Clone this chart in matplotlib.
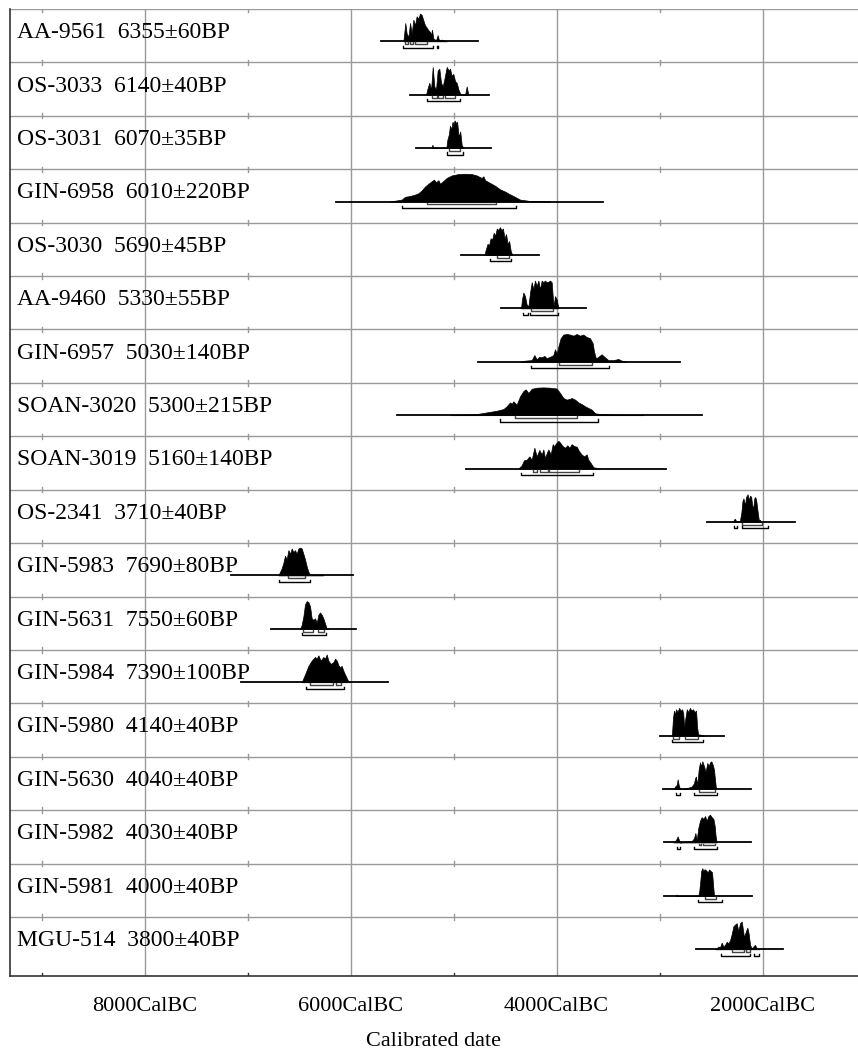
import matplotlib
matplotlib.use("Agg")
import matplotlib.pyplot as plt

plt.rcParams['font.family'] = ['Liberation Serif', 'DejaVu Serif']

names = ["AA-9561", "OS-3033", "OS-3031", "GIN-6958", "OS-3030", "AA-9460",
         "GIN-6957", "SOAN-3020", "SOAN-3019", "OS-2341", "GIN-5983", "GIN-5631",
         "GIN-5984", "GIN-5980", "GIN-5630", "GIN-5982", "GIN-5981", "MGU-514"]
ages = [6355, 6140, 6070, 6010, 5690, 5330, 5030, 5300, 5160, 3710,
        7690, 7550, 7390, 4140, 4040, 4030, 4000, 3800]
errors = [60, 40, 35, 220, 45, 55, 140, 215, 140, 40,
          80, 60, 100, 40, 40, 40, 40, 40]

# extent of each calibrated curve (years BC)
span_from = [5705, 5422, 5364, 6141, 4927, 4539, 4759, 5552, 4879, 2536,
             7160, 6772, 7063, 2995, 2963, 2956, 2956, 2646]
span_to = [4765, 4652, 4636, 3552, 4170, 3714, 2801, 2591, 2937, 1684,
           5979, 5947, 5633, 2374, 2115, 2115, 2105, 1798]

# probability curves: years BC and relative probability
prob_years = [
    [5487, 5477, 5468, 5455, 5438, 5422, 5406, 5390, 5374, 5358, 5341, 5325, 5309, 5293,
     5277, 5260, 5244, 5228, 5218, 5209, 5196, 5170, 5154, 5141, 5115, 5083, 5066],
    [5267, 5254, 5235, 5218, 5202, 5186, 5170, 5154, 5138, 5121, 5105, 5089, 5066, 5047,
     5034, 5018, 5002, 4985, 4969, 4953, 4937, 4921, 4888, 4872, 4862, 4853],
    [5215, 5205, 5195, 5070, 5060, 5045, 5035, 5020, 5010, 5000, 4990, 4975, 4965, 4950,
     4935, 4920, 4900],
    [5617, 5503, 5471, 5422, 5374, 5341, 5309, 5277, 5244, 5212, 5189, 5170, 5147, 5131,
     5099, 5066, 5018, 4953, 4888, 4824, 4775, 4727, 4710, 4694, 4646, 4597, 4549, 4500,
     4452, 4403, 4354, 4257, 4063],
    [4700, 4690, 4670, 4655, 4640, 4625, 4610, 4595, 4580, 4565, 4550, 4535, 4520, 4505,
     4490, 4475, 4460, 4445, 4430],
    [4345, 4335, 4322, 4306, 4290, 4273, 4257, 4241, 4225, 4209, 4193, 4176, 4160, 4144,
     4128, 4112, 4095, 4079, 4063, 4047, 4037, 4028, 4015, 3998, 3982],
    [4354, 4306, 4241, 4215, 4193, 4167, 4144, 4118, 4095, 4063, 4031, 4015, 3998, 3982,
     3960, 3934, 3901, 3869, 3837, 3804, 3772, 3740, 3707, 3675, 3649, 3636, 3617, 3594,
     3562, 3545, 3529, 3497, 3448, 3400, 3367, 3319],
    [5034, 4775, 4678, 4581, 4516, 4484, 4451, 4435, 4419, 4387, 4354, 4322, 4299, 4273,
     4241, 4193, 4128, 4063, 3998, 3966, 3934, 3901, 3869, 3853, 3820, 3788, 3756, 3723,
     3691, 3659, 3626, 3578, 3448, 3157],
    [4371, 4338, 4316, 4290, 4264, 4241, 4215, 4193, 4167, 4144, 4128, 4112, 4095, 4079,
     4057, 4037, 4024, 3998, 3982, 3966, 3940, 3917, 3895, 3875, 3853, 3830, 3804, 3782,
     3756, 3733, 3707, 3691, 3668, 3642, 3578],
    [2290, 2270, 2255, 2220, 2205, 2195, 2185, 2170, 2160, 2145, 2135, 2120, 2110, 2100,
     2090, 2080, 2070, 2060, 2045, 2035, 2025, 2015],
    [6701, 6684, 6668, 6652, 6636, 6620, 6603, 6587, 6571, 6555, 6539, 6523, 6506, 6490,
     6474, 6458, 6442, 6425, 6409, 6393, 6345, 6280, 6264],
    [6490, 6474, 6458, 6442, 6425, 6409, 6393, 6377, 6361, 6345, 6328, 6312, 6296, 6280,
     6264, 6248, 6231, 6215],
    [6474, 6442, 6409, 6377, 6345, 6328, 6312, 6290, 6264, 6248, 6231, 6215, 6192, 6167,
     6150, 6134, 6118, 6102, 6086, 6069, 6053, 6037, 6021, 6005],
    [2880, 2870, 2860, 2850, 2840, 2825, 2810, 2795, 2780, 2770, 2760, 2750, 2735, 2720,
     2705, 2690, 2675, 2660, 2645, 2635, 2625, 2580, 2570],
    [2866, 2849, 2833, 2824, 2814, 2801, 2752, 2720, 2688, 2665, 2655, 2646, 2633, 2620,
     2607, 2597, 2584, 2568, 2552, 2536, 2523, 2510, 2497, 2484, 2471, 2461, 2451],
    [2866, 2840, 2824, 2811, 2801, 2736, 2688, 2665, 2652, 2639, 2623, 2607, 2591, 2574,
     2558, 2542, 2526, 2510, 2493, 2477, 2464, 2455, 2445],
    [2840, 2835, 2830, 2625, 2615, 2605, 2595, 2585, 2575, 2565, 2555, 2545, 2530, 2520,
     2505, 2490, 2478, 2470],
    [2461, 2445, 2429, 2413, 2396, 2380, 2364, 2348, 2332, 2315, 2299, 2283, 2267, 2251,
     2235, 2218, 2202, 2193, 2180, 2160, 2147, 2134, 2121, 2105, 2073, 2057, 2031],
]
prob_values = [
    [0, 0.34, 0.66, 0.28, 0.16, 0.66, 0.28, 0.78, 0.58, 0.90, 0.82, 1.0, 0.95, 0.76,
     0.58, 0.49, 0.40, 0.34, 0.22, 0.42, 0.10, 0.04, 0.22, 0.04, 0.06, 0.02, 0],
    [0, 0.20, 0.43, 0.18, 1.0, 0.30, 0.18, 0.87, 0.94, 0.43, 0.30, 0.56, 1.0, 0.87,
     0.94, 0.68, 0.75, 0.49, 0.43, 0.20, 0.05, 0, 0, 0.30, 0.10, 0],
    [0, 0.12, 0, 0, 0.30, 0.50, 0.80, 0.70, 0.95, 0.85, 1.0, 0.90, 0.95, 0.40,
     0.60, 0.10, 0],
    [0, 0.07, 0.17, 0.20, 0.25, 0.30, 0.40, 0.54, 0.64, 0.73, 0.79, 0.69, 0.77, 0.64,
     0.74, 0.85, 0.94, 0.99, 1.0, 0.99, 0.94, 0.85, 0.91, 0.77, 0.67, 0.57, 0.44, 0.36,
     0.26, 0.17, 0.07, 0.02, 0],
    [0, 0.15, 0.40, 0.35, 0.60, 0.55, 0.80, 0.70, 0.95, 0.90, 1.0, 0.90, 0.95, 0.60,
     0.75, 0.40, 0.50, 0.15, 0],
    [0, 0.32, 0.57, 0.44, 0.14, 0.07, 0.57, 0.94, 0.69, 1.0, 0.81, 1.0, 0.69, 1.0,
     0.94, 1.0, 0.94, 0.96, 1.0, 0.94, 0.44, 0.07, 0.44, 0.32, 0],
    [0, 0.04, 0.06, 0.24, 0.09, 0.18, 0.16, 0.21, 0.13, 0.18, 0.24, 0.45, 0.30, 0.55,
     0.85, 0.98, 1.0, 0.98, 0.94, 1.0, 0.94, 0.98, 0.89, 0.85, 0.67, 0.37, 0.12, 0.18,
     0.27, 0.21, 0.16, 0.06, 0.06, 0.10, 0.04, 0],
    [0, 0.04, 0.10, 0.16, 0.22, 0.32, 0.46, 0.41, 0.50, 0.38, 0.68, 0.87, 0.93, 0.80,
     0.95, 0.99, 1.0, 0.99, 0.96, 0.80, 0.62, 0.56, 0.59, 0.62, 0.56, 0.46, 0.40, 0.32,
     0.26, 0.20, 0.07, 0.04, 0.02, 0],
    [0, 0.12, 0.30, 0.32, 0.44, 0.32, 0.75, 0.44, 0.67, 0.51, 0.69, 0.38, 0.56, 0.69,
     0.51, 0.88, 0.81, 0.94, 1.0, 0.94, 0.81, 0.75, 0.84, 0.75, 0.88, 0.81, 0.79, 0.63,
     0.51, 0.44, 0.51, 0.32, 0.20, 0.05, 0],
    [0, 0.12, 0.03, 0.04, 0.35, 0.75, 0.85, 0.60, 0.90, 1.0, 0.80, 0.95, 0.90, 0.60,
     0.50, 0.85, 0.90, 0.75, 0.30, 0.05, 0.08, 0],
    [0, 0.13, 0.26, 0.45, 0.71, 0.58, 0.91, 0.78, 0.97, 0.84, 0.91, 0.78, 0.97, 1.0,
     0.97, 0.78, 0.58, 0.32, 0.13, 0.03, 0.01, 0.04, 0],
    [0, 0.14, 0.44, 0.88, 1.0, 0.96, 0.81, 0.38, 0.32, 0.38, 0.22, 0.51, 0.59, 0.51,
     0.38, 0.20, 0.01, 0],
    [0, 0.28, 0.59, 0.78, 0.91, 0.85, 0.97, 0.78, 0.91, 0.85, 1.0, 0.78, 0.66, 0.72,
     0.85, 0.78, 0.62, 0.53, 0.59, 0.41, 0.28, 0.15, 0.03, 0],
    [0, 0.60, 0.90, 0.75, 0.95, 0.85, 1.0, 0.90, 0.95, 0.80, 0.30, 0.60, 0.95, 0.85,
     1.0, 0.90, 0.95, 0.85, 0.90, 0.30, 0.05, 0.02, 0],
    [0, 0.09, 0.15, 0.35, 0.15, 0, 0.02, 0.05, 0.09, 0.21, 0.39, 0.45, 0.15, 0.70,
     0.96, 0.82, 1.0, 0.82, 0.63, 0.94, 0.82, 0.96, 1.0, 0.88, 0.70, 0.33, 0],
    [0, 0.09, 0.22, 0.09, 0, 0.03, 0.05, 0.15, 0.34, 0.09, 0.53, 0.78, 0.91, 0.85,
     0.95, 0.78, 0.95, 1.0, 0.91, 0.85, 0.59, 0.22, 0],
    [0, 0.05, 0, 0, 0.15, 0.50, 0.90, 1.0, 0.90, 0.95, 0.95, 0.90, 0.85, 0.95,
     0.90, 0.85, 0.30, 0],
    [0, 0.04, 0.10, 0.07, 0.24, 0.10, 0.16, 0.27, 0.21, 0.33, 0.55, 0.83, 0.89, 0.94,
     0.66, 0.94, 1.0, 0.78, 0.44, 0.66, 0.78, 0.55, 0.16, 0.04, 0.16, 0.04, 0],
]

# highest density ranges, years BC
range68 = [
    [(5471, 5438), (5422, 5390), (5374, 5260)],
    [(5212, 5163), (5154, 5099), (5082, 4985)],
    [(5040, 4935)],
    [(5254, 4591)],
    [(4580, 4460)],
    [(4251, 4031)],
    [(3976, 3659)],
    [(4400, 3798)],
    [(4225, 4193), (4160, 4079), (4070, 3778)],
    [(2202, 2008)],
    [(6603, 6442)],
    [(6458, 6367), (6312, 6257)],
    [(6393, 6167), (6141, 6095)],
    [(2865, 2810), (2750, 2630)],
    [(2613, 2461)],
    [(2613, 2600), (2574, 2461)],
    [(2558, 2451)],
    [(2299, 2180), (2160, 2121)],
]
range95 = [
    [(5487, 5202), (5157, 5150)],
    [(5260, 4937)],
    [(5060, 4910)],
    [(5497, 4397)],
    [(4650, 4440)],
    [(4328, 4273), (4257, 3989)],
    [(4248, 3490)],
    [(4549, 3594)],
    [(4348, 3642)],
    [(2273, 2251), (2202, 1950)],
    [(6691, 6393)],
    [(6474, 6238)],
    [(6432, 6060)],
    [(2880, 2580)],
    [(2840, 2801), (2665, 2445)],
    [(2833, 2801), (2665, 2445)],
    [(2623, 2396)],
    [(2403, 2121), (2079, 2031)],
]

major_ticks = [8000, 6000, 4000, 2000]
minor_ticks = [9000, 7000, 5000, 3000]

n = len(names)
bottom = n + 0.105   # last row is drawn a little taller

fig = plt.figure(figsize=(8.58, 10.62), dpi=100)
ax = fig.add_axes([10 / 858, 86 / 1062, 848 / 858, 967 / 1062])
ax.set_xlim(-9306, -1073)
ax.set_ylim(bottom, 0)

for s in ['top', 'right']:
    ax.spines[s].set_visible(False)
ax.spines['left'].set_color('#333333')
ax.spines['bottom'].set_color('#333333')
ax.spines['left'].set_linewidth(1.2)
ax.spines['bottom'].set_linewidth(1.2)

# grid
for i in range(0, n):
    ax.axhline(i, color='#999999', lw=1.0, zorder=1)
for t in major_ticks:
    ax.axvline(-t, color='#999999', lw=1.0, zorder=1)
for t in minor_ticks:
    for i in range(0, n):
        ax.plot([-t, -t], [i - 0.05, i + 0.05], color='#999999', lw=1.0, zorder=1)
    ax.plot([-t, -t], [bottom, bottom - 0.06], color='#333333', lw=1.0, zorder=1)

ax.set_yticks([])
ax.set_xticks([-t for t in major_ticks])
ax.set_xticklabels(["%dCalBC" % t for t in major_ticks], fontsize=16)
ax.tick_params(axis='x', length=0, pad=15)

for i in range(n):
    base = i + 0.605
    ax.text(0.008, i + 0.545, "%s  %d\u00b1%dBP" % (names[i], ages[i], errors[i]),
            transform=ax.get_yaxis_transform(), fontsize=17, va='baseline', ha='left',
            zorder=3)
    ax.plot([-span_from[i], -span_to[i]], [base, base], color='black', lw=1.3, zorder=4)
    xs = [-y for y in prob_years[i]]
    tops = [base - 0.52 * p for p in prob_values[i]]
    ax.fill_between(xs, base, tops, color='black', lw=0.5, zorder=4)
    for a, b in range68[i]:
        y = base + 0.055
        ax.plot([-a, -a, -b, -b], [y - 0.035, y, y, y - 0.035], color='#444444', lw=1.0,
                zorder=4)
    for a, b in range95[i]:
        y = base + 0.12
        ax.plot([-a, -a, -b, -b], [y - 0.04, y, y, y - 0.04], color='black', lw=1.0,
                zorder=4)

fig.text(0.5 * (10 + 858) / 858, 1 - 1042 / 1062, "Calibrated date", fontsize=16,
         ha='center', va='center')

fig.savefig("out.png", dpi=100)
